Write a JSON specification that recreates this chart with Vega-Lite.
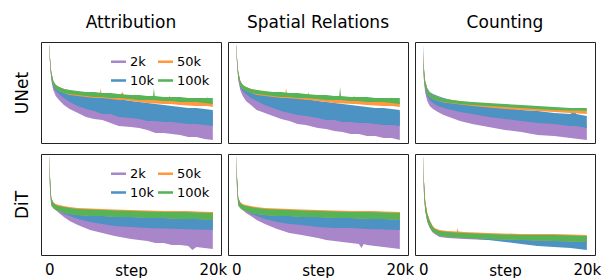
{
"$schema": "https://vega.github.io/schema/vega-lite/v6.json",
"padding": {"left": 12, "top": 13, "right": 5, "bottom": 0},
"config": {"font": "DejaVu Sans", "view": {"stroke": "#222", "strokeWidth": 1}, "title": {"color": "black"}},
"datasets": {
"ua": [
{"s":"2k","x":0,"lo":96,"hi":99},{"s":"2k","x":100,"lo":80,"hi":85},{"s":"2k","x":250,"lo":63,"hi":71},{"s":"2k","x":500,"lo":53,"hi":61},{"s":"2k","x":800,"lo":47,"hi":57},{"s":"2k","x":1200,"lo":43,"hi":55},{"s":"2k","x":1800,"lo":38,"hi":52},{"s":"2k","x":2500,"lo":34,"hi":50},{"s":"2k","x":3500,"lo":30,"hi":48},{"s":"2k","x":4500,"lo":26,"hi":46},{"s":"2k","x":5500,"lo":24,"hi":45},{"s":"2k","x":6500,"lo":23,"hi":44},{"s":"2k","x":7500,"lo":20,"hi":43},{"s":"2k","x":8500,"lo":17,"hi":42},{"s":"2k","x":10000,"lo":16,"hi":40},{"s":"2k","x":11000,"lo":15,"hi":39},{"s":"2k","x":12000,"lo":13,"hi":38},{"s":"2k","x":13000,"lo":10,"hi":37},{"s":"2k","x":14000,"lo":10,"hi":36},{"s":"2k","x":15000,"lo":9,"hi":35},{"s":"2k","x":16000,"lo":8,"hi":34},{"s":"2k","x":17000,"lo":6,"hi":33},{"s":"2k","x":18000,"lo":6,"hi":33},{"s":"2k","x":19000,"lo":4,"hi":32},{"s":"2k","x":20000,"lo":3,"hi":31},
{"s":"10k","x":0,"lo":96,"hi":99},{"s":"10k","x":100,"lo":81,"hi":85},{"s":"10k","x":250,"lo":65,"hi":71},{"s":"10k","x":500,"lo":56,"hi":62},{"s":"10k","x":800,"lo":52,"hi":58},{"s":"10k","x":1200,"lo":49,"hi":56},{"s":"10k","x":1800,"lo":45,"hi":54},{"s":"10k","x":2500,"lo":41,"hi":52},{"s":"10k","x":3500,"lo":37,"hi":50},{"s":"10k","x":4500,"lo":34,"hi":48},{"s":"10k","x":5500,"lo":32,"hi":47},{"s":"10k","x":6500,"lo":29,"hi":46},{"s":"10k","x":7500,"lo":29,"hi":45},{"s":"10k","x":8500,"lo":26,"hi":44},{"s":"10k","x":10000,"lo":25,"hi":42},{"s":"10k","x":11000,"lo":24,"hi":41},{"s":"10k","x":12000,"lo":22,"hi":40},{"s":"10k","x":13000,"lo":22,"hi":39},{"s":"10k","x":14000,"lo":21,"hi":38},{"s":"10k","x":15000,"lo":21,"hi":37},{"s":"10k","x":16000,"lo":20,"hi":36},{"s":"10k","x":17000,"lo":19,"hi":35},{"s":"10k","x":18000,"lo":19,"hi":35},{"s":"10k","x":19000,"lo":18,"hi":34},{"s":"10k","x":20000,"lo":17,"hi":33},
{"s":"50k","x":0,"lo":96,"hi":99},{"s":"50k","x":100,"lo":81,"hi":85},{"s":"50k","x":250,"lo":66,"hi":71},{"s":"50k","x":500,"lo":58,"hi":62},{"s":"50k","x":800,"lo":54,"hi":58},{"s":"50k","x":1200,"lo":52,"hi":56},{"s":"50k","x":1800,"lo":50,"hi":54},{"s":"50k","x":2500,"lo":48,"hi":53},{"s":"50k","x":3500,"lo":47,"hi":51},{"s":"50k","x":4500,"lo":46,"hi":50},{"s":"50k","x":5500,"lo":45,"hi":49},{"s":"50k","x":6200,"lo":45,"hi":49},{"s":"50k","x":6300,"lo":45,"hi":55},{"s":"50k","x":6400,"lo":45,"hi":49},{"s":"50k","x":7500,"lo":44,"hi":48},{"s":"50k","x":8500,"lo":43,"hi":47},{"s":"50k","x":9000,"lo":43,"hi":51},{"s":"50k","x":9150,"lo":43,"hi":47},{"s":"50k","x":10000,"lo":42,"hi":46},{"s":"50k","x":12000,"lo":40,"hi":45},{"s":"50k","x":14000,"lo":39,"hi":44},{"s":"50k","x":14600,"lo":39,"hi":44},{"s":"50k","x":14700,"lo":39,"hi":48},{"s":"50k","x":14800,"lo":39,"hi":44},{"s":"50k","x":16000,"lo":38,"hi":43},{"s":"50k","x":18000,"lo":37,"hi":42},{"s":"50k","x":19200,"lo":37,"hi":42},{"s":"50k","x":19300,"lo":37,"hi":47},{"s":"50k","x":19400,"lo":37,"hi":42},{"s":"50k","x":20000,"lo":36,"hi":41},
{"s":"100k","x":0,"lo":96,"hi":99},{"s":"100k","x":100,"lo":81,"hi":85},{"s":"100k","x":250,"lo":66,"hi":71},{"s":"100k","x":500,"lo":58,"hi":62},{"s":"100k","x":800,"lo":54,"hi":58},{"s":"100k","x":1200,"lo":52,"hi":56},{"s":"100k","x":1800,"lo":50,"hi":54},{"s":"100k","x":2500,"lo":49,"hi":53},{"s":"100k","x":3500,"lo":48,"hi":52},{"s":"100k","x":4500,"lo":47,"hi":51},{"s":"100k","x":5500,"lo":46,"hi":51},{"s":"100k","x":6500,"lo":46,"hi":50},{"s":"100k","x":7500,"lo":45,"hi":50},{"s":"100k","x":8500,"lo":45,"hi":49},{"s":"100k","x":10000,"lo":44,"hi":48},{"s":"100k","x":11000,"lo":43,"hi":48},{"s":"100k","x":12000,"lo":43,"hi":47},{"s":"100k","x":12700,"lo":43,"hi":47},{"s":"100k","x":12800,"lo":43,"hi":55},{"s":"100k","x":12900,"lo":43,"hi":47},{"s":"100k","x":14000,"lo":42,"hi":46},{"s":"100k","x":15000,"lo":42,"hi":46},{"s":"100k","x":16000,"lo":41,"hi":46},{"s":"100k","x":17000,"lo":41,"hi":45},{"s":"100k","x":18000,"lo":41,"hi":45},{"s":"100k","x":19000,"lo":40,"hi":45},{"s":"100k","x":20000,"lo":39,"hi":45}
],
"us": [
{"s":"2k","x":0,"lo":96,"hi":99},{"s":"2k","x":100,"lo":80,"hi":85},{"s":"2k","x":250,"lo":63,"hi":71},{"s":"2k","x":500,"lo":53,"hi":61},{"s":"2k","x":800,"lo":47,"hi":57},{"s":"2k","x":1200,"lo":42,"hi":55},{"s":"2k","x":1800,"lo":38,"hi":52},{"s":"2k","x":2500,"lo":33,"hi":50},{"s":"2k","x":3500,"lo":30,"hi":48},{"s":"2k","x":4500,"lo":27,"hi":46},{"s":"2k","x":5500,"lo":24,"hi":45},{"s":"2k","x":6500,"lo":22,"hi":44},{"s":"2k","x":7500,"lo":19,"hi":43},{"s":"2k","x":8500,"lo":18,"hi":42},{"s":"2k","x":10000,"lo":15,"hi":40},{"s":"2k","x":11000,"lo":14,"hi":39},{"s":"2k","x":12000,"lo":12,"hi":38},{"s":"2k","x":13000,"lo":11,"hi":37},{"s":"2k","x":14000,"lo":9,"hi":36},{"s":"2k","x":15000,"lo":9,"hi":35},{"s":"2k","x":16000,"lo":7,"hi":34},{"s":"2k","x":17000,"lo":7,"hi":33},{"s":"2k","x":18000,"lo":5,"hi":33},{"s":"2k","x":19000,"lo":5,"hi":32},{"s":"2k","x":20000,"lo":3,"hi":31},
{"s":"10k","x":0,"lo":96,"hi":99},{"s":"10k","x":100,"lo":81,"hi":85},{"s":"10k","x":250,"lo":65,"hi":71},{"s":"10k","x":500,"lo":56,"hi":62},{"s":"10k","x":800,"lo":52,"hi":58},{"s":"10k","x":1200,"lo":49,"hi":56},{"s":"10k","x":1800,"lo":45,"hi":54},{"s":"10k","x":2500,"lo":42,"hi":52},{"s":"10k","x":3500,"lo":38,"hi":50},{"s":"10k","x":4500,"lo":35,"hi":48},{"s":"10k","x":5500,"lo":32,"hi":47},{"s":"10k","x":6500,"lo":30,"hi":46},{"s":"10k","x":7500,"lo":28,"hi":45},{"s":"10k","x":8500,"lo":27,"hi":44},{"s":"10k","x":10000,"lo":25,"hi":42},{"s":"10k","x":11000,"lo":23,"hi":41},{"s":"10k","x":12000,"lo":23,"hi":40},{"s":"10k","x":13000,"lo":21,"hi":39},{"s":"10k","x":14000,"lo":21,"hi":38},{"s":"10k","x":15000,"lo":20,"hi":37},{"s":"10k","x":16000,"lo":20,"hi":36},{"s":"10k","x":17000,"lo":19,"hi":35},{"s":"10k","x":18000,"lo":18,"hi":35},{"s":"10k","x":19000,"lo":18,"hi":34},{"s":"10k","x":20000,"lo":17,"hi":33},
{"s":"50k","x":0,"lo":96,"hi":99},{"s":"50k","x":100,"lo":81,"hi":85},{"s":"50k","x":250,"lo":66,"hi":71},{"s":"50k","x":500,"lo":58,"hi":62},{"s":"50k","x":800,"lo":54,"hi":58},{"s":"50k","x":1200,"lo":52,"hi":56},{"s":"50k","x":1800,"lo":50,"hi":54},{"s":"50k","x":2500,"lo":48,"hi":53},{"s":"50k","x":3500,"lo":47,"hi":51},{"s":"50k","x":4500,"lo":46,"hi":50},{"s":"50k","x":5500,"lo":45,"hi":49},{"s":"50k","x":6000,"lo":45,"hi":49},{"s":"50k","x":6100,"lo":45,"hi":55},{"s":"50k","x":6200,"lo":45,"hi":49},{"s":"50k","x":7500,"lo":44,"hi":48},{"s":"50k","x":8700,"lo":43,"hi":47},{"s":"50k","x":8800,"lo":43,"hi":51},{"s":"50k","x":8950,"lo":43,"hi":47},{"s":"50k","x":10000,"lo":42,"hi":46},{"s":"50k","x":12000,"lo":40,"hi":45},{"s":"50k","x":14300,"lo":39,"hi":44},{"s":"50k","x":14400,"lo":39,"hi":48},{"s":"50k","x":14500,"lo":39,"hi":44},{"s":"50k","x":16000,"lo":38,"hi":43},{"s":"50k","x":18000,"lo":37,"hi":42},{"s":"50k","x":18900,"lo":37,"hi":42},{"s":"50k","x":19000,"lo":37,"hi":46},{"s":"50k","x":19100,"lo":37,"hi":42},{"s":"50k","x":20000,"lo":36,"hi":41},
{"s":"100k","x":0,"lo":96,"hi":99},{"s":"100k","x":100,"lo":81,"hi":85},{"s":"100k","x":250,"lo":66,"hi":71},{"s":"100k","x":500,"lo":58,"hi":62},{"s":"100k","x":800,"lo":54,"hi":58},{"s":"100k","x":1200,"lo":52,"hi":56},{"s":"100k","x":1800,"lo":50,"hi":54},{"s":"100k","x":2500,"lo":49,"hi":53},{"s":"100k","x":3500,"lo":48,"hi":52},{"s":"100k","x":4500,"lo":47,"hi":51},{"s":"100k","x":5500,"lo":46,"hi":51},{"s":"100k","x":6500,"lo":46,"hi":50},{"s":"100k","x":7500,"lo":45,"hi":50},{"s":"100k","x":8500,"lo":45,"hi":49},{"s":"100k","x":10000,"lo":44,"hi":48},{"s":"100k","x":11000,"lo":43,"hi":48},{"s":"100k","x":12000,"lo":43,"hi":47},{"s":"100k","x":12600,"lo":43,"hi":47},{"s":"100k","x":12700,"lo":43,"hi":56},{"s":"100k","x":12800,"lo":43,"hi":47},{"s":"100k","x":14000,"lo":42,"hi":46},{"s":"100k","x":15000,"lo":42,"hi":46},{"s":"100k","x":16000,"lo":41,"hi":46},{"s":"100k","x":17000,"lo":41,"hi":45},{"s":"100k","x":18000,"lo":41,"hi":45},{"s":"100k","x":19000,"lo":40,"hi":45},{"s":"100k","x":20000,"lo":39,"hi":45}
],
"uc": [
{"s":"2k","x":0,"lo":87,"hi":93},{"s":"2k","x":100,"lo":61,"hi":73},{"s":"2k","x":250,"lo":50,"hi":60},{"s":"2k","x":500,"lo":42,"hi":53},{"s":"2k","x":800,"lo":37,"hi":49},{"s":"2k","x":1200,"lo":34,"hi":46},{"s":"2k","x":1800,"lo":31,"hi":44},{"s":"2k","x":2500,"lo":28,"hi":42},{"s":"2k","x":3500,"lo":25,"hi":39},{"s":"2k","x":4500,"lo":22,"hi":37},{"s":"2k","x":6000,"lo":19,"hi":34},{"s":"2k","x":8000,"lo":16,"hi":31},{"s":"2k","x":10000,"lo":13,"hi":28},{"s":"2k","x":12000,"lo":11,"hi":25},{"s":"2k","x":14000,"lo":8,"hi":23},{"s":"2k","x":16000,"lo":7,"hi":21},{"s":"2k","x":18000,"lo":5,"hi":19},{"s":"2k","x":20000,"lo":3,"hi":17},
{"s":"10k","x":0,"lo":93,"hi":99},{"s":"10k","x":100,"lo":63,"hi":75},{"s":"10k","x":250,"lo":54,"hi":62},{"s":"10k","x":500,"lo":47,"hi":55},{"s":"10k","x":800,"lo":43,"hi":51},{"s":"10k","x":1200,"lo":40,"hi":49},{"s":"10k","x":1800,"lo":37,"hi":47},{"s":"10k","x":2500,"lo":35,"hi":45},{"s":"10k","x":3500,"lo":33,"hi":43},{"s":"10k","x":4500,"lo":31,"hi":41},{"s":"10k","x":6000,"lo":29,"hi":39},{"s":"10k","x":8000,"lo":26,"hi":37},{"s":"10k","x":10000,"lo":24,"hi":35},{"s":"10k","x":12000,"lo":22,"hi":33},{"s":"10k","x":14000,"lo":20,"hi":32},{"s":"10k","x":16000,"lo":19,"hi":30},{"s":"10k","x":18000,"lo":17,"hi":29},{"s":"10k","x":18500,"lo":17,"hi":33},{"s":"10k","x":18700,"lo":17,"hi":29},{"s":"10k","x":20000,"lo":15,"hi":27},
{"s":"50k","x":0,"lo":83,"hi":91},{"s":"50k","x":100,"lo":63,"hi":73},{"s":"50k","x":250,"lo":55,"hi":61},{"s":"50k","x":500,"lo":49,"hi":54},{"s":"50k","x":800,"lo":46,"hi":50},{"s":"50k","x":1200,"lo":44,"hi":48},{"s":"50k","x":1800,"lo":42,"hi":46},{"s":"50k","x":2500,"lo":40.5,"hi":44},{"s":"50k","x":3500,"lo":39.5,"hi":43},{"s":"50k","x":4500,"lo":38.5,"hi":42},{"s":"50k","x":6000,"lo":37,"hi":40.5},{"s":"50k","x":8000,"lo":35.5,"hi":39},{"s":"50k","x":10000,"lo":34,"hi":37.5},{"s":"50k","x":12000,"lo":33,"hi":36},{"s":"50k","x":14000,"lo":32,"hi":35},{"s":"50k","x":16000,"lo":31,"hi":34},{"s":"50k","x":18000,"lo":30,"hi":33},{"s":"50k","x":20000,"lo":29,"hi":32},
{"s":"100k","x":0,"lo":77,"hi":83},{"s":"100k","x":100,"lo":63,"hi":71},{"s":"100k","x":250,"lo":55,"hi":61},{"s":"100k","x":500,"lo":49,"hi":54},{"s":"100k","x":800,"lo":46,"hi":50},{"s":"100k","x":1200,"lo":44,"hi":48},{"s":"100k","x":1800,"lo":42,"hi":46},{"s":"100k","x":2500,"lo":41,"hi":44},{"s":"100k","x":3500,"lo":40,"hi":43},{"s":"100k","x":4500,"lo":39,"hi":42},{"s":"100k","x":6000,"lo":38,"hi":41},{"s":"100k","x":8000,"lo":37,"hi":40},{"s":"100k","x":10000,"lo":36,"hi":39},{"s":"100k","x":12000,"lo":35,"hi":38},{"s":"100k","x":14000,"lo":34,"hi":37},{"s":"100k","x":16000,"lo":33,"hi":36},{"s":"100k","x":18000,"lo":32.5,"hi":35},{"s":"100k","x":20000,"lo":32,"hi":35}
],
"da": [
{"s":"2k","x":0,"lo":96,"hi":99},{"s":"2k","x":100,"lo":65,"hi":78},{"s":"2k","x":250,"lo":49,"hi":57},{"s":"2k","x":500,"lo":47,"hi":52},{"s":"2k","x":800,"lo":45,"hi":50},{"s":"2k","x":1200,"lo":42,"hi":49},{"s":"2k","x":1800,"lo":38,"hi":48},{"s":"2k","x":2500,"lo":34,"hi":47},{"s":"2k","x":3500,"lo":30,"hi":46},{"s":"2k","x":5000,"lo":25,"hi":46},{"s":"2k","x":6500,"lo":22,"hi":45},{"s":"2k","x":8000,"lo":19,"hi":45},{"s":"2k","x":10000,"lo":16,"hi":44},{"s":"2k","x":11000,"lo":15,"hi":44},{"s":"2k","x":12000,"lo":14,"hi":44},{"s":"2k","x":13000,"lo":12,"hi":44},{"s":"2k","x":14000,"lo":12,"hi":44},{"s":"2k","x":15000,"lo":10,"hi":44},{"s":"2k","x":16000,"lo":10,"hi":44},{"s":"2k","x":17000,"lo":9,"hi":43},{"s":"2k","x":17500,"lo":5,"hi":43},{"s":"2k","x":18000,"lo":8,"hi":43},{"s":"2k","x":19000,"lo":7,"hi":43},{"s":"2k","x":20000,"lo":6,"hi":43},
{"s":"10k","x":0,"lo":96,"hi":99},{"s":"10k","x":100,"lo":68,"hi":78},{"s":"10k","x":250,"lo":51,"hi":57},{"s":"10k","x":500,"lo":47,"hi":52},{"s":"10k","x":800,"lo":45,"hi":50},{"s":"10k","x":1200,"lo":44,"hi":49},{"s":"10k","x":1800,"lo":41,"hi":48},{"s":"10k","x":2500,"lo":39,"hi":47},{"s":"10k","x":3500,"lo":36,"hi":46},{"s":"10k","x":5000,"lo":33,"hi":46},{"s":"10k","x":6500,"lo":31,"hi":45},{"s":"10k","x":8000,"lo":29,"hi":45},{"s":"10k","x":10000,"lo":28,"hi":44},{"s":"10k","x":12000,"lo":27,"hi":44},{"s":"10k","x":14000,"lo":26.5,"hi":44},{"s":"10k","x":16000,"lo":26,"hi":44},{"s":"10k","x":18000,"lo":25.5,"hi":43},{"s":"10k","x":20000,"lo":25,"hi":43},
{"s":"50k","x":0,"lo":96,"hi":99},{"s":"50k","x":100,"lo":68,"hi":78},{"s":"50k","x":250,"lo":51,"hi":57},{"s":"50k","x":500,"lo":47,"hi":53},{"s":"50k","x":800,"lo":45,"hi":51},{"s":"50k","x":1200,"lo":44,"hi":50},{"s":"50k","x":1800,"lo":42,"hi":49},{"s":"50k","x":2500,"lo":41,"hi":48},{"s":"50k","x":3500,"lo":40,"hi":47},{"s":"50k","x":5000,"lo":39,"hi":46.5},{"s":"50k","x":6500,"lo":39,"hi":46},{"s":"50k","x":8000,"lo":38,"hi":45.5},{"s":"50k","x":10000,"lo":38,"hi":45},{"s":"50k","x":12000,"lo":37,"hi":44.5},{"s":"50k","x":14000,"lo":37,"hi":44},{"s":"50k","x":16000,"lo":36,"hi":44},{"s":"50k","x":18000,"lo":36,"hi":43.5},{"s":"50k","x":20000,"lo":35,"hi":43},
{"s":"100k","x":0,"lo":96,"hi":99},{"s":"100k","x":100,"lo":68,"hi":78},{"s":"100k","x":250,"lo":51,"hi":57},{"s":"100k","x":500,"lo":47,"hi":52},{"s":"100k","x":800,"lo":45,"hi":50},{"s":"100k","x":1200,"lo":44,"hi":49},{"s":"100k","x":1800,"lo":42,"hi":48},{"s":"100k","x":2500,"lo":41,"hi":47},{"s":"100k","x":3500,"lo":40,"hi":46},{"s":"100k","x":5000,"lo":39,"hi":45.5},{"s":"100k","x":6500,"lo":39,"hi":45},{"s":"100k","x":8000,"lo":38,"hi":44.5},{"s":"100k","x":10000,"lo":38,"hi":44},{"s":"100k","x":12000,"lo":37,"hi":43.5},{"s":"100k","x":14000,"lo":37,"hi":43},{"s":"100k","x":16000,"lo":36,"hi":43},{"s":"100k","x":18000,"lo":36,"hi":42.5},{"s":"100k","x":20000,"lo":35,"hi":42}
],
"ds": [
{"s":"2k","x":0,"lo":96,"hi":99},{"s":"2k","x":100,"lo":65,"hi":78},{"s":"2k","x":250,"lo":49,"hi":57},{"s":"2k","x":500,"lo":47,"hi":52},{"s":"2k","x":800,"lo":45,"hi":50},{"s":"2k","x":1200,"lo":42,"hi":49},{"s":"2k","x":1800,"lo":39,"hi":48},{"s":"2k","x":2500,"lo":35,"hi":47},{"s":"2k","x":3500,"lo":31,"hi":46},{"s":"2k","x":5000,"lo":26,"hi":46},{"s":"2k","x":6500,"lo":22,"hi":45},{"s":"2k","x":8000,"lo":20,"hi":45},{"s":"2k","x":10000,"lo":17,"hi":44},{"s":"2k","x":11000,"lo":15,"hi":44},{"s":"2k","x":12000,"lo":14,"hi":44},{"s":"2k","x":13000,"lo":13,"hi":44},{"s":"2k","x":14000,"lo":12,"hi":44},{"s":"2k","x":15000,"lo":11,"hi":44},{"s":"2k","x":15300,"lo":7,"hi":44},{"s":"2k","x":15600,"lo":11,"hi":44},{"s":"2k","x":16000,"lo":10,"hi":44},{"s":"2k","x":17000,"lo":9,"hi":43},{"s":"2k","x":18000,"lo":8,"hi":43},{"s":"2k","x":19000,"lo":7,"hi":43},{"s":"2k","x":20000,"lo":6,"hi":43},
{"s":"10k","x":0,"lo":96,"hi":99},{"s":"10k","x":100,"lo":68,"hi":78},{"s":"10k","x":250,"lo":51,"hi":57},{"s":"10k","x":500,"lo":47,"hi":52},{"s":"10k","x":800,"lo":45,"hi":50},{"s":"10k","x":1200,"lo":44,"hi":49},{"s":"10k","x":1800,"lo":41,"hi":48},{"s":"10k","x":2500,"lo":39,"hi":47},{"s":"10k","x":3500,"lo":36,"hi":46},{"s":"10k","x":5000,"lo":33,"hi":46},{"s":"10k","x":6500,"lo":31,"hi":45},{"s":"10k","x":8000,"lo":30,"hi":45},{"s":"10k","x":10000,"lo":28,"hi":44},{"s":"10k","x":12000,"lo":27,"hi":44},{"s":"10k","x":14000,"lo":27,"hi":44},{"s":"10k","x":16000,"lo":26,"hi":44},{"s":"10k","x":18000,"lo":25.5,"hi":43},{"s":"10k","x":20000,"lo":25,"hi":43},
{"s":"50k","x":0,"lo":96,"hi":99},{"s":"50k","x":100,"lo":68,"hi":78},{"s":"50k","x":250,"lo":51,"hi":57},{"s":"50k","x":500,"lo":47,"hi":53},{"s":"50k","x":800,"lo":45,"hi":51},{"s":"50k","x":1200,"lo":44,"hi":50},{"s":"50k","x":1800,"lo":42,"hi":49},{"s":"50k","x":2500,"lo":41,"hi":48},{"s":"50k","x":3500,"lo":40,"hi":47},{"s":"50k","x":5000,"lo":39,"hi":46.5},{"s":"50k","x":6500,"lo":39,"hi":46},{"s":"50k","x":8000,"lo":38,"hi":45.5},{"s":"50k","x":10000,"lo":38,"hi":45},{"s":"50k","x":12000,"lo":37,"hi":44.5},{"s":"50k","x":14000,"lo":37,"hi":44},{"s":"50k","x":16000,"lo":36,"hi":44},{"s":"50k","x":18000,"lo":36,"hi":43.5},{"s":"50k","x":20000,"lo":35,"hi":43},
{"s":"100k","x":0,"lo":96,"hi":99},{"s":"100k","x":100,"lo":68,"hi":78},{"s":"100k","x":250,"lo":51,"hi":57},{"s":"100k","x":500,"lo":47,"hi":52},{"s":"100k","x":800,"lo":45,"hi":50},{"s":"100k","x":1200,"lo":44,"hi":49},{"s":"100k","x":1800,"lo":42,"hi":48},{"s":"100k","x":2500,"lo":41,"hi":47},{"s":"100k","x":3500,"lo":40,"hi":46},{"s":"100k","x":5000,"lo":39,"hi":45.5},{"s":"100k","x":6500,"lo":39,"hi":45},{"s":"100k","x":8000,"lo":38,"hi":44.5},{"s":"100k","x":10000,"lo":38,"hi":44},{"s":"100k","x":12000,"lo":37,"hi":43.5},{"s":"100k","x":14000,"lo":37,"hi":43},{"s":"100k","x":16000,"lo":36,"hi":43},{"s":"100k","x":18000,"lo":36,"hi":42.5},{"s":"100k","x":20000,"lo":35,"hi":42}
],
"dc": [
{"s":"2k","x":0,"lo":96,"hi":99},{"s":"2k","x":100,"lo":60,"hi":73},{"s":"2k","x":250,"lo":44,"hi":53},{"s":"2k","x":500,"lo":33,"hi":41},{"s":"2k","x":800,"lo":27,"hi":34},{"s":"2k","x":1100,"lo":23,"hi":29},{"s":"2k","x":1400,"lo":21,"hi":26},{"s":"2k","x":2000,"lo":18,"hi":24},{"s":"2k","x":3000,"lo":17,"hi":23},{"s":"2k","x":5000,"lo":16,"hi":22},{"s":"2k","x":8000,"lo":15,"hi":21},{"s":"2k","x":12000,"lo":14,"hi":20},{"s":"2k","x":16000,"lo":13,"hi":20},{"s":"2k","x":20000,"lo":12,"hi":19},
{"s":"10k","x":0,"lo":96,"hi":99},{"s":"10k","x":100,"lo":61,"hi":73},{"s":"10k","x":250,"lo":45,"hi":53},{"s":"10k","x":500,"lo":34,"hi":41},{"s":"10k","x":800,"lo":28,"hi":34},{"s":"10k","x":1100,"lo":24,"hi":29},{"s":"10k","x":1400,"lo":22,"hi":26},{"s":"10k","x":2000,"lo":19,"hi":24},{"s":"10k","x":3000,"lo":18,"hi":23},{"s":"10k","x":5000,"lo":17,"hi":22},{"s":"10k","x":8000,"lo":15,"hi":21},{"s":"10k","x":10000,"lo":13,"hi":20},{"s":"10k","x":12000,"lo":11,"hi":19},{"s":"10k","x":14000,"lo":9,"hi":18},{"s":"10k","x":16000,"lo":8,"hi":17},{"s":"10k","x":18000,"lo":7,"hi":16},{"s":"10k","x":20000,"lo":5,"hi":16},
{"s":"50k","x":0,"lo":96,"hi":99},{"s":"50k","x":100,"lo":61,"hi":74},{"s":"50k","x":250,"lo":45,"hi":54},{"s":"50k","x":500,"lo":34,"hi":42},{"s":"50k","x":800,"lo":28,"hi":35},{"s":"50k","x":1100,"lo":24,"hi":30},{"s":"50k","x":1400,"lo":22,"hi":27},{"s":"50k","x":2000,"lo":19,"hi":25},{"s":"50k","x":3000,"lo":18,"hi":24},{"s":"50k","x":4100,"lo":17.5,"hi":23.5},{"s":"50k","x":4200,"lo":17.5,"hi":27},{"s":"50k","x":4300,"lo":17.5,"hi":23.5},{"s":"50k","x":5000,"lo":17,"hi":23},{"s":"50k","x":8000,"lo":16,"hi":22},{"s":"50k","x":12000,"lo":15,"hi":21},{"s":"50k","x":16000,"lo":14,"hi":21},{"s":"50k","x":20000,"lo":13,"hi":20},
{"s":"100k","x":0,"lo":96,"hi":99},{"s":"100k","x":100,"lo":61,"hi":73},{"s":"100k","x":250,"lo":45,"hi":53},{"s":"100k","x":500,"lo":34,"hi":41},{"s":"100k","x":800,"lo":28,"hi":34},{"s":"100k","x":1100,"lo":24,"hi":29},{"s":"100k","x":1400,"lo":22,"hi":26},{"s":"100k","x":2000,"lo":19,"hi":24},{"s":"100k","x":3000,"lo":18,"hi":23},{"s":"100k","x":5000,"lo":17,"hi":22},{"s":"100k","x":8000,"lo":16,"hi":21},{"s":"100k","x":12000,"lo":15,"hi":20},{"s":"100k","x":16000,"lo":14,"hi":20},{"s":"100k","x":20000,"lo":13,"hi":19}
]
},
"spacing": 9,
"resolve": {"scale": {"color": "independent", "x": "independent", "y": "independent"}, "legend": {"color": "independent"}},
"vconcat": [
{"hconcat": [
{"width": 180, "height": 101, "data": {"name": "ua"},
 "title": {"text": "Attribution", "fontSize": 17, "fontWeight": "normal", "offset": 10},
 "mark": {"type": "area", "opacity": 1},
 "encoding": {
  "x": {"field": "x", "type": "quantitative", "scale": {"domain": [-1000, 21000], "nice": false}, "axis": null},
  "y": {"field": "hi", "type": "quantitative", "stack": null, "scale": {"domain": [0, 101], "nice": false, "zero": false}, "axis": {"title": "UNet", "labels": false, "ticks": false, "domain": false, "grid": false, "titleFontSize": 17, "titleFontWeight": "normal", "titleColor": "black", "titlePadding": 10}},
  "y2": {"field": "lo"},
  "color": {"field": "s", "type": "nominal", "scale": {"domain": ["2k", "10k", "50k", "100k"], "range": ["#a985ca", "#4c92c3", "#ff983e", "#56b356"]}, "legend": {"orient": "top-right", "columns": 2, "title": null, "offset": 11, "padding": 0, "symbolType": "M-1,-0.17H1V0.17H-1Z", "symbolSize": 225, "labelFontSize": 13, "labelColor": "black", "labelOffset": 3, "columnPadding": 2, "rowPadding": 3}}
 }},
{"width": 180, "height": 101, "data": {"name": "us"},
 "title": {"text": "Spatial Relations", "fontSize": 17, "fontWeight": "normal", "offset": 10},
 "mark": {"type": "area", "opacity": 1},
 "encoding": {
  "x": {"field": "x", "type": "quantitative", "scale": {"domain": [-1000, 21000], "nice": false}, "axis": null},
  "y": {"field": "hi", "type": "quantitative", "stack": null, "scale": {"domain": [0, 101], "nice": false, "zero": false}, "axis": null},
  "y2": {"field": "lo"},
  "color": {"field": "s", "type": "nominal", "scale": {"domain": ["2k", "10k", "50k", "100k"], "range": ["#a985ca", "#4c92c3", "#ff983e", "#56b356"]}, "legend": null}
 }},
{"width": 180, "height": 101, "data": {"name": "uc"},
 "title": {"text": "Counting", "fontSize": 17, "fontWeight": "normal", "offset": 10},
 "mark": {"type": "area", "opacity": 1},
 "encoding": {
  "x": {"field": "x", "type": "quantitative", "scale": {"domain": [-1000, 21000], "nice": false}, "axis": null},
  "y": {"field": "hi", "type": "quantitative", "stack": null, "scale": {"domain": [0, 101], "nice": false, "zero": false}, "axis": null},
  "y2": {"field": "lo"},
  "color": {"field": "s", "type": "nominal", "scale": {"domain": ["2k", "10k", "50k", "100k"], "range": ["#a985ca", "#4c92c3", "#ff983e", "#56b356"]}, "legend": null}
 }}
], "spacing": 7, "bounds": "flush",
"resolve": {"scale": {"color": "independent", "x": "independent", "y": "independent"}, "legend": {"color": "independent"}}},
{"hconcat": [
{"width": 180, "height": 101, "data": {"name": "da"},
 "mark": {"type": "area", "opacity": 1},
 "encoding": {
  "x": {"field": "x", "type": "quantitative", "scale": {"domain": [-1000, 21000], "nice": false}, "axis": {"values": [0, 20000], "labelExpr": "datum.value === 0 ? '0' : '20k'", "title": "step", "grid": false, "ticks": false, "tickSize": 0, "domain": false, "labelFontSize": 15, "labelColor": "black", "labelPadding": 7, "labelFlush": false, "titleFontSize": 15, "titleFontWeight": "normal", "titleColor": "black", "titleY": 20, "titleBaseline": "alphabetic"}},
  "y": {"field": "hi", "type": "quantitative", "stack": null, "scale": {"domain": [0, 101], "nice": false, "zero": false}, "axis": {"title": "DiT", "labels": false, "ticks": false, "domain": false, "grid": false, "titleFontSize": 17, "titleFontWeight": "normal", "titleColor": "black", "titlePadding": 10}},
  "y2": {"field": "lo"},
  "color": {"field": "s", "type": "nominal", "scale": {"domain": ["2k", "10k", "50k", "100k"], "range": ["#a985ca", "#4c92c3", "#ff983e", "#56b356"]}, "legend": {"orient": "top-right", "columns": 2, "title": null, "offset": 11, "padding": 0, "symbolType": "M-1,-0.17H1V0.17H-1Z", "symbolSize": 225, "labelFontSize": 13, "labelColor": "black", "labelOffset": 3, "columnPadding": 2, "rowPadding": 3}}
 }},
{"width": 180, "height": 101, "data": {"name": "ds"},
 "mark": {"type": "area", "opacity": 1},
 "encoding": {
  "x": {"field": "x", "type": "quantitative", "scale": {"domain": [-1000, 21000], "nice": false}, "axis": {"values": [0, 20000], "labelExpr": "datum.value === 0 ? '0' : '20k'", "title": "step", "grid": false, "ticks": false, "tickSize": 0, "domain": false, "labelFontSize": 15, "labelColor": "black", "labelPadding": 7, "labelFlush": false, "titleFontSize": 15, "titleFontWeight": "normal", "titleColor": "black", "titleY": 20, "titleBaseline": "alphabetic"}},
  "y": {"field": "hi", "type": "quantitative", "stack": null, "scale": {"domain": [0, 101], "nice": false, "zero": false}, "axis": null},
  "y2": {"field": "lo"},
  "color": {"field": "s", "type": "nominal", "scale": {"domain": ["2k", "10k", "50k", "100k"], "range": ["#a985ca", "#4c92c3", "#ff983e", "#56b356"]}, "legend": null}
 }},
{"width": 180, "height": 101, "data": {"name": "dc"},
 "mark": {"type": "area", "opacity": 1},
 "encoding": {
  "x": {"field": "x", "type": "quantitative", "scale": {"domain": [-1000, 21000], "nice": false}, "axis": {"values": [0, 20000], "labelExpr": "datum.value === 0 ? '0' : '20k'", "title": "step", "grid": false, "ticks": false, "tickSize": 0, "domain": false, "labelFontSize": 15, "labelColor": "black", "labelPadding": 7, "labelFlush": false, "titleFontSize": 15, "titleFontWeight": "normal", "titleColor": "black", "titleY": 20, "titleBaseline": "alphabetic"}},
  "y": {"field": "hi", "type": "quantitative", "stack": null, "scale": {"domain": [0, 101], "nice": false, "zero": false}, "axis": null},
  "y2": {"field": "lo"},
  "color": {"field": "s", "type": "nominal", "scale": {"domain": ["2k", "10k", "50k", "100k"], "range": ["#a985ca", "#4c92c3", "#ff983e", "#56b356"]}, "legend": null}
 }}
], "spacing": 7, "bounds": "flush",
"resolve": {"scale": {"color": "independent", "x": "independent", "y": "independent"}, "legend": {"color": "independent"}}}
]
}
